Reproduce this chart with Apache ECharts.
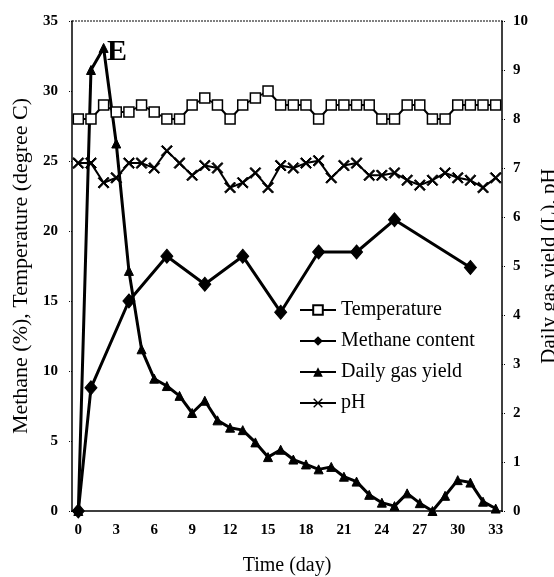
<!DOCTYPE html>
<html><head><meta charset="utf-8">
<script src="https://cdn.jsdelivr.net/npm/echarts@6/dist/echarts.min.js"></script>
<style>html,body{margin:0;padding:0;background:#fff}#c{width:554px;height:577px}</style>
</head><body><div id="c"></div>
<script>
var days = [];
for (var i = 0; i <= 33; i++) days.push(String(i));
var xTickLabels = ['0','3','6','9','12','15','18','21','24','27','30','33'];
var temperature = [28,28,29,28.5,28.5,29,28.5,28,28,29,29.5,29,28,29,29.5,30,29,29,29,28,29,29,29,29,28,28,29,29,28,28,29,29,29,29];
var methaneDays = [0,1,4,7,10,13,16,19,22,25,31];
var methaneValues = [0,8.8,15,18.2,16.2,18.2,14.2,18.5,18.5,20.8,17.4];
var gasYield = [0,9.0,9.45,7.5,4.9,3.3,2.7,2.55,2.35,2.0,2.25,1.85,1.7,1.65,1.4,1.1,1.25,1.05,0.95,0.85,0.9,0.7,0.6,0.33,0.17,0.1,0.36,0.16,0,0.31,0.63,0.58,0.19,0.05];
var pH = [7.1,7.1,6.7,6.8,7.1,7.1,7.0,7.35,7.1,6.85,7.05,7.0,6.6,6.7,6.9,6.6,7.05,7.0,7.1,7.15,6.8,7.05,7.1,6.85,6.85,6.9,6.75,6.65,6.75,6.9,6.8,6.75,6.6,6.8];

var methaneData = methaneDays.map(function(d, k){ return [d, methaneValues[k]]; });
var F = '"Liberation Serif", "Times New Roman", serif';
var xShape = 'path://M0,1L1,0L5,4L9,0L10,1L6,5L10,9L9,10L5,6L1,10L0,9L4,5Z';

var chart = echarts.init(document.getElementById('c'), null, {renderer:'canvas'});
chart.setOption({
  animation:false,
  backgroundColor:'#fff',
  grid:{left:72,right:52,top:21,bottom:66,containLabel:false,outerBoundsMode:'none'},
  legend:{
    orient:'vertical', left:294, top:295, itemGap:11, itemWidth:36, itemHeight:12,
    textStyle:{fontFamily:F,fontSize:20,color:'#000'},
    data:['Temperature','Methane content','Daily gas yield','pH']
  },
  xAxis:{
    type:'category', data:days, boundaryGap:true,
    name:'Time (day)', nameLocation:'middle', nameGap:45,
    nameTextStyle:{fontFamily:F,fontSize:20,color:'#000'},
    axisLine:{lineStyle:{color:'#000',width:1.5}},
    axisTick:{alignWithLabel:true, interval:0, length:4, lineStyle:{color:'#000'}},
    axisLabel:{interval:0, margin:12, fontFamily:F, fontSize:15, fontWeight:'bold', color:'#000',
      formatter:function(v){ return xTickLabels.indexOf(v) >= 0 ? v : ''; }},
    splitLine:{show:false}
  },
  yAxis:[{
    type:'value', min:0, max:35, interval:5,
    name:'Methane (%), Temperature (degree C)', nameLocation:'middle', nameGap:39,
    nameTextStyle:{fontFamily:F,fontSize:22,color:'#000'},
    axisLine:{show:true,lineStyle:{color:'#000',width:1.5}},
    axisTick:{show:true,length:3,lineStyle:{color:'#000',type:'dotted'}},
    axisLabel:{margin:14,fontFamily:F,fontSize:15,fontWeight:'bold',color:'#000'},
    splitLine:{show:false}
  },{
    type:'value', min:0, max:10, interval:1, position:'right',
    name:'Daily gas yield (L), pH', nameLocation:'middle', nameGap:32,
    nameTextStyle:{fontFamily:F,fontSize:21,color:'#000'},
    axisLine:{show:true,lineStyle:{color:'#000',width:1.5}},
    axisTick:{show:true,length:3,lineStyle:{color:'#000',type:'dotted'}},
    axisLabel:{margin:11,fontFamily:F,fontSize:15,fontWeight:'bold',color:'#000'},
    splitLine:{show:false}
  }],
  graphic:[
    {type:'line', shape:{x1:72,y1:21,x2:502,y2:21}, style:{stroke:'#000',lineWidth:1,lineDash:[2,1]}},
    {type:'text', left:107, top:37, style:{text:'E', font:'bold 30px "Liberation Serif", serif', fill:'#000'}, z:10}
  ],
  series:[
    {name:'Temperature', type:'line', yAxisIndex:0, data:temperature,
     symbol:'rect', symbolSize:10, showAllSymbol:true,
     lineStyle:{color:'#000',width:2}, itemStyle:{color:'#fff',borderColor:'#000',borderWidth:1.5}},
    {name:'Methane content', type:'line', yAxisIndex:0, data:methaneData,
     symbol:'diamond', symbolSize:[12,14], showAllSymbol:true,
     lineStyle:{color:'#000',width:3}, itemStyle:{color:'#000',borderColor:'#000'}},
    {name:'Daily gas yield', type:'line', yAxisIndex:1, data:gasYield,
     symbol:'triangle', symbolSize:9, showAllSymbol:true,
     lineStyle:{color:'#000',width:3}, itemStyle:{color:'#000',borderColor:'#000'}},
    {name:'pH', type:'line', yAxisIndex:1, data:pH,
     symbol:xShape, symbolSize:11, showAllSymbol:true,
     lineStyle:{color:'#000',width:2}, itemStyle:{color:'#000',borderColor:'#000'}}
  ]
});
</script></body></html>
